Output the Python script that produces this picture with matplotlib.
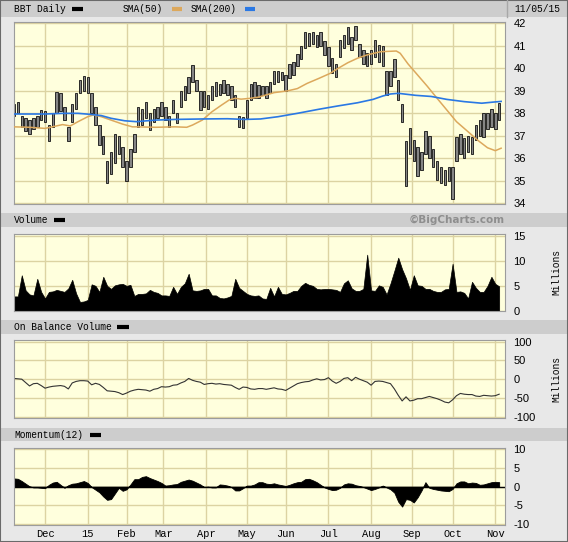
"""BB&T daily chart in the BigCharts style: price bars with SMA(50)/SMA(200),
volume, on balance volume and momentum(12). Writes out.png."""
import matplotlib

matplotlib.use("Agg")
import matplotlib.pyplot as plt  # noqa: E402
import numpy as np  # noqa: E402
import pandas as pd  # noqa: E402
from matplotlib.lines import Line2D  # noqa: E402
from matplotlib.patches import Rectangle  # noqa: E402

# --- data (one bar per two trading days) -------------------------------------
HOLIDAYS = ["2014-11-27", "2014-12-25", "2015-01-01", "2015-01-19", "2015-02-16",
            "2015-04-03", "2015-05-25", "2015-07-03", "2015-09-07"]
DATES = pd.bdate_range("2014-11-06", "2015-11-05", freq="C", holidays=HOLIDAYS)
BAR_DATES = DATES[::2]
MONTH_LABELS = ["Dec", "15", "Feb", "Mar", "Apr", "May", "Jun", "Jul",
                "Aug", "Sep", "Oct", "Nov"]

PRICE_LOW = [
    37.9, 38.0, 37.4, 37.2, 37.1, 37.3, 37.4, 37.7, 37.6, 36.75,
    37.4, 38.0, 38.1, 37.7, 36.75, 37.6, 38.2, 38.9, 39.0, 38.9,
    38.0, 37.5, 36.6, 36.2, 34.9, 35.3, 35.8, 36.2, 35.6, 35.0,
    35.6, 36.3, 37.4, 37.5, 37.8, 37.25, 37.6, 37.8, 37.9, 37.7,
    37.4, 38.0, 37.55, 38.3, 38.6, 38.9, 39.4, 39.0, 38.15, 38.3,
    38.2, 38.6, 38.75, 38.8, 38.9, 38.8, 38.6, 38.3, 37.4, 37.35,
    37.8, 38.6, 38.7, 38.7, 38.8, 38.7, 38.9, 39.3, 39.4, 39.5,
    39.0, 39.55, 39.7, 40.1, 40.4, 40.9, 41.0, 41.1, 40.95, 41.0,
    40.6, 40.1, 39.8, 39.6, 40.5, 40.9, 41.1, 40.8, 41.25, 40.5,
    40.2, 40.1, 40.2, 40.5, 40.3, 40.1, 38.8, 39.2, 39.6, 38.6,
    37.6, 34.75, 36.2, 35.9, 35.2, 35.5, 36.2, 36.0, 35.6, 35.05,
    34.9, 34.8, 35.0, 34.2, 35.9, 36.2, 36.0, 36.3, 36.2, 36.8,
    37.0, 36.95, 37.3, 37.4, 37.3, 37.7]
PRICE_HIGH = [
    38.4, 38.5, 37.9, 37.8, 37.7, 37.8, 37.9, 38.15, 38.1, 37.5,
    38.0, 38.95, 38.9, 38.3, 37.4, 38.4, 38.9, 39.5, 39.65, 39.6,
    38.9, 38.3, 37.5, 37.0, 35.9, 36.3, 37.1, 37.0, 36.5, 35.9,
    36.4, 37.1, 38.3, 38.2, 38.5, 38.0, 38.2, 38.3, 38.5, 38.3,
    37.9, 38.6, 38.0, 39.0, 39.2, 39.6, 40.15, 39.5, 39.0, 39.0,
    38.8, 39.2, 39.4, 39.3, 39.5, 39.3, 39.2, 38.8, 37.9, 37.85,
    38.6, 39.3, 39.4, 39.25, 39.2, 39.2, 39.4, 39.9, 39.9, 39.85,
    39.7, 40.2, 40.3, 40.65, 41.0, 41.6, 41.55, 41.6, 41.5, 41.6,
    41.2, 40.95, 40.45, 40.2, 41.25, 41.5, 41.85, 41.4, 41.9, 41.1,
    40.8, 40.7, 40.8, 41.25, 41.05, 41.0, 39.9, 39.9, 40.4, 39.5,
    38.4, 36.75, 37.35, 36.8, 36.5, 36.3, 37.2, 37.0, 36.4, 35.9,
    35.6, 35.5, 35.6, 35.6, 36.95, 37.1, 36.9, 37.0, 36.95, 37.5,
    37.7, 38.0, 38.0, 38.2, 38.0, 38.45]

SMA50_DATES = [
    "2014-11-06", "2014-11-18", "2014-12-01", "2014-12-12", "2014-12-18",
    "2014-12-24", "2015-01-02", "2015-01-07", "2015-01-13", "2015-01-21",
    "2015-01-29", "2015-02-05", "2015-02-09", "2015-02-24", "2015-03-10",
    "2015-03-18", "2015-03-23", "2015-03-30", "2015-04-07", "2015-04-14",
    "2015-04-20", "2015-04-23", "2015-04-28", "2015-05-05", "2015-05-11",
    "2015-05-21", "2015-06-02", "2015-06-09", "2015-06-16", "2015-06-24",
    "2015-07-02", "2015-07-09", "2015-07-16", "2015-07-23", "2015-07-30",
    "2015-08-10", "2015-08-20", "2015-08-24", "2015-08-28", "2015-09-04",
    "2015-09-14", "2015-09-21", "2015-09-28", "2015-10-05", "2015-10-13",
    "2015-10-20", "2015-10-27", "2015-11-02", "2015-11-05"]
SMA50 = [
    37.4, 37.38, 37.33, 37.5, 37.44, 37.63, 37.85, 37.93, 37.85, 37.7,
    37.52, 37.4, 37.4, 37.38, 37.4, 37.38, 37.48, 37.7, 38.07, 38.37,
    38.6, 38.67, 38.63, 38.67, 38.72, 38.92, 39.0, 39.1, 39.33, 39.55,
    39.78, 40.0, 40.25, 40.45, 40.6, 40.74, 40.77, 40.67, 40.2, 39.7,
    39.2, 38.67, 38.15, 37.63, 37.18, 36.8, 36.47, 36.34, 36.45]

SMA200_DATES = [
    "2014-11-06", "2014-12-01", "2014-12-12", "2014-12-24", "2015-01-06",
    "2015-01-13", "2015-01-21", "2015-01-30", "2015-02-09", "2015-02-24",
    "2015-03-10", "2015-03-30", "2015-04-17", "2015-04-30", "2015-05-12",
    "2015-05-26", "2015-06-09", "2015-06-24", "2015-07-09", "2015-07-23",
    "2015-08-04", "2015-08-11", "2015-08-17", "2015-08-21", "2015-09-03",
    "2015-09-16", "2015-09-28", "2015-10-09", "2015-10-22", "2015-10-30",
    "2015-11-05"]
SMA200 = [
    37.97, 37.97, 38.0, 38.0, 37.95, 37.9, 37.78, 37.67, 37.63, 37.7,
    37.73, 37.75, 37.76, 37.73, 37.75, 37.85, 38.0, 38.18, 38.33, 38.47,
    38.62, 38.77, 38.86, 38.89, 38.8, 38.75, 38.62, 38.52, 38.45, 38.5,
    38.53]

VOLUME = [  # millions
    2.9, 2.9, 7.1, 4.1, 3.3, 3.1, 6.4, 3.8, 2.5, 3.8,
    3.9, 4.2, 4.0, 3.8, 4.5, 6.2, 3.5, 1.8, 1.9, 2.2,
    5.3, 5.0, 3.8, 6.8, 5.0, 4.4, 5.1, 5.3, 5.4, 5.0,
    5.2, 3.0, 3.4, 3.4, 3.5, 4.2, 3.8, 3.6, 3.1, 3.1,
    3.0, 4.8, 3.4, 4.8, 5.5, 7.4, 4.1, 4.0, 4.1, 4.4,
    4.4, 3.1, 3.1, 2.6, 2.5, 2.7, 3.0, 6.4, 4.6, 4.0,
    3.4, 3.1, 3.0, 3.1, 2.5, 2.4, 4.6, 2.9, 4.8, 3.4,
    3.3, 3.6, 4.0, 4.0, 5.0, 5.6, 5.2, 5.0, 4.4, 4.3,
    4.4, 4.4, 4.3, 4.2, 3.8, 5.5, 6.1, 4.5, 4.0, 4.0,
    4.4, 11.2, 4.1, 4.0, 5.1, 4.8, 3.3, 5.5, 8.0, 10.6,
    8.3, 6.5, 4.2, 7.1, 5.1, 5.0, 4.4, 4.4, 4.0, 3.8,
    3.8, 4.3, 4.4, 9.4, 3.8, 3.9, 3.6, 2.5, 5.8, 4.6,
    3.8, 3.8, 5.0, 6.8, 5.4, 4.9]

OBV = [  # millions
    2, 1, 0, -9, -18, -12, -11, -17, -24, -21,
    -19, -18, -17, -19, -26, -10, -6, -4, -4, -5,
    -15, -11, -14, -22, -31, -32, -33, -36, -41, -37,
    -32, -29, -27, -28, -29, -32, -27, -25, -20, -21,
    -20, -16, -15, -10, -6, 2, -3, -6, -8, -14,
    -12, -11, -13, -12, -14, -15, -16, -22, -27, -21,
    -22, -26, -27, -25, -25, -27, -25, -23, -26, -27,
    -30, -24, -18, -12, -9, -7, -6, -2, 1, -2,
    -1, 4, -5, -11, -6, 2, 4, -4, 5, 0,
    -4, -8, -16, -6, -5, -6, -9, -12, -26, -43,
    -58, -47, -58, -56, -52, -52, -49, -46, -49, -52,
    -56, -61, -63, -55, -44, -38, -40, -41, -41, -45,
    -46, -43, -44, -45, -44, -40]

MOMENTUM = [
    2.2, 2.1, 1.5, 0.8, 0.1, -0.2, -0.2, -0.3, -0.4, 0.5,
    1.1, 1.3, 0.5, -0.3, 0.4, 0.8, 0.9, 1.2, 1.5, 1.0,
    -0.1, -0.8, -1.5, -2.6, -3.5, -3.3, -1.8, -0.3, -1.1, -0.7,
    0.6, 2.0, 2.0, 2.6, 2.8, 2.3, 1.9, 1.5, 1.0, 0.3,
    0.4, 0.6, 0.7, 1.3, 1.6, 1.9, 1.6, 1.1, 0.6, -0.1,
    0.0, -0.2, -0.2, 0.6, 0.5, 0.3, -0.1, -1.0, -1.0, -0.4,
    0.3, 0.3, 0.6, 1.2, 1.2, 0.8, 0.7, 0.9, 0.6, 0.4,
    0.2, 0.5, 0.9, 1.2, 1.3, 2.0, 2.1, 1.7, 1.2, 0.5,
    -0.2, -0.6, -0.9, -0.8, -0.3, 0.6, 0.9, 0.8, 0.4, 0.2,
    -0.1, -0.5, -0.9, -0.6, -0.2, 0.3, -0.2, -0.7, -1.6, -4.0,
    -5.3, -3.3, -3.5, -4.2, -2.8, -1.0, 1.2, -0.3, -0.6, -0.8,
    -1.0, -1.1, -1.2, -0.6, 0.9, 1.4, 1.4, 0.9, 1.1, 1.0,
    0.5, 0.6, 0.9, 1.2, 1.3, 1.2]

# --- look -------------------------------------------------------------------
W, H = 568, 542
FIG_BG = "#e8e8e8"
HEADER_BG = "#cdcdcd"
PLOT_BG = "#ffffdd"
GRID = "#dcd3a2"
SMA50_COLOR = "#dca85c"
SMA200_COLOR = "#2a78e4"
MONO = "Liberation Mono"

plt.rcParams["font.family"] = "Liberation Sans"
plt.rcParams["axes.unicode_minus"] = False


def fx(x):
    return x / W


def fy(y):
    return 1 - y / H


def panel(fig, top, bottom, ylim, yticks, month_pos):
    ax = fig.add_axes([fx(14), fy(bottom), 491 / W, (bottom - top) / H])
    ax.set_facecolor(PLOT_BG)
    ax.set_xlim(0, 253)
    ax.set_ylim(*ylim)
    ax.yaxis.tick_right()
    ax.set_yticks(yticks)
    ax.set_xticks(month_pos)
    ax.grid(True, color=GRID, lw=1.0)
    ax.set_axisbelow(True)
    ax.tick_params(length=0, labelsize=8, pad=6, labelbottom=False)
    for s in ax.spines.values():
        s.set_color("#9c9c9c")
    return ax


def band(fig, y0, y1):
    fig.add_artist(Rectangle((0, fy(y1)), 1, (y1 - y0) / H, transform=fig.transFigure,
                             facecolor=HEADER_BG, edgecolor="none", zorder=0))


def dash(fig, x0, x1, y, color):
    fig.add_artist(Line2D([fx(x0), fx(x1)], [fy(y), fy(y)], transform=fig.transFigure,
                          color=color, lw=3, solid_capstyle="butt"))


def label(fig, x, y, s, **kw):
    fig.text(fx(x), fy(y), s, family=MONO, fontsize=6.9, va="center", **kw)


def main() -> None:
    idx = np.arange(len(DATES))
    xb = idx[::2]
    month_pos = np.flatnonzero(DATES.month[1:] != DATES.month[:-1]) + 1

    fig = plt.figure(figsize=(W / 100, H / 100), dpi=100, facecolor=FIG_BG)

    # headers
    band(fig, 0, 17)
    band(fig, 213, 227)
    band(fig, 320, 334)
    band(fig, 428, 441)
    fig.add_artist(Line2D([fx(507), fx(507)], [fy(0), fy(17)], transform=fig.transFigure,
                          color="#a8a8a8", lw=1))
    label(fig, 14, 9, "BBT Daily")
    dash(fig, 72, 83, 9, "black")
    label(fig, 123, 9, "SMA(50)")
    dash(fig, 172, 182, 9, SMA50_COLOR)
    label(fig, 191, 9, "SMA(200)")
    dash(fig, 245, 255, 9, SMA200_COLOR)
    label(fig, 514, 9, "11/05/15")
    label(fig, 14, 220, "Volume")
    dash(fig, 54, 65, 220, "black")
    fig.text(fx(505), fy(220), "\u00a9BigCharts.com", fontsize=7.5, fontweight="bold",
             family="DejaVu Sans", color="#8e8e8e", ha="right", va="center")
    label(fig, 14, 327, "On Balance Volume")
    dash(fig, 117, 129, 327, "black")
    label(fig, 14, 435, "Momentum(12)")
    dash(fig, 90, 101, 435, "black")

    # price
    ax = panel(fig, 22, 204, (33.97, 42.06), np.arange(34, 43), month_pos)
    low = np.array(PRICE_LOW)
    high = np.array(PRICE_HIGH)
    ax.bar(xb, high - low, bottom=low, width=1.25, color="#858585",
           edgecolor="#111111", linewidth=0.6, zorder=2)
    ax.plot(DATES.searchsorted(pd.to_datetime(SMA50_DATES)), SMA50,
            color=SMA50_COLOR, lw=1.1, zorder=3)
    ax.plot(DATES.searchsorted(pd.to_datetime(SMA200_DATES)), SMA200,
            color=SMA200_COLOR, lw=1.2, zorder=3)

    # volume
    ax = panel(fig, 234, 311, (0, 15.3), [0, 5, 10, 15], month_pos)
    ax.fill_between(xb, 0, VOLUME, color="black", lw=0.5, zorder=2)
    label(fig, 556, 272, "Millions", rotation=90, ha="center")

    # on balance volume
    ax = panel(fig, 340, 418, (-103.5, 104.5), [-100, -50, 0, 50, 100], month_pos)
    ax.plot(xb, OBV, color="#333333", lw=0.8, zorder=2)
    label(fig, 556, 379, "Millions", rotation=90, ha="center")

    # momentum
    ax = panel(fig, 448, 525, (-10.2, 10.3), [-10, -5, 0, 5, 10], month_pos)
    ax.fill_between(xb, 0, MOMENTUM, color="black", lw=0.6, zorder=2)
    ax.axhline(0, color="black", lw=1, zorder=2)
    ax.set_xticklabels(MONTH_LABELS, family=MONO, fontsize=7.5)
    ax.tick_params(axis="x", labelbottom=True, pad=3)

    fig.add_artist(Rectangle((0, 0), 1, 1, transform=fig.transFigure, fill=False,
                             edgecolor="#6a6a6a", lw=1.5))
    fig.savefig("out.png", dpi=100, facecolor=FIG_BG)
    plt.close(fig)


if __name__ == "__main__":
    main()
